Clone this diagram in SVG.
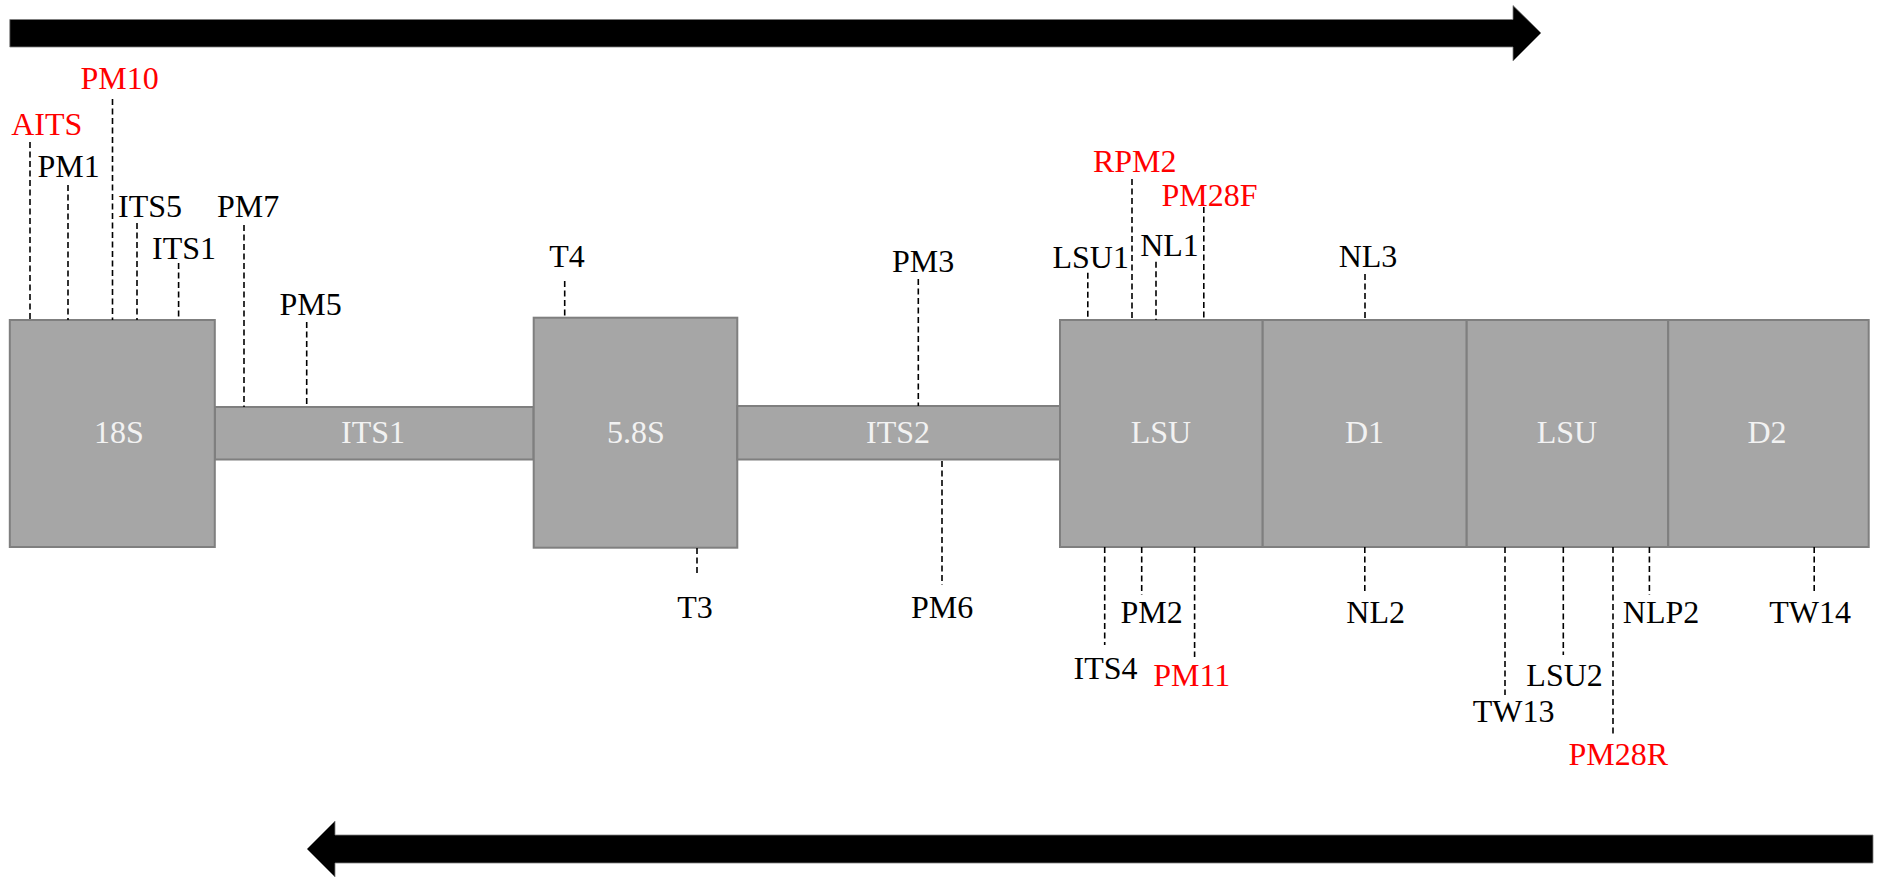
<svg xmlns="http://www.w3.org/2000/svg" width="1879" height="878" viewBox="0 0 1879 878">
  <style>
    .seg { fill: #a6a6a6; stroke: #7f7f7f; stroke-width: 2; }
    .seglabel { font-family: "Liberation Serif", "DejaVu Serif", serif; font-size: 32px; fill: #f2f2f2; text-anchor: middle; }
    .primer { font-family: "Liberation Serif", "DejaVu Serif", serif; font-size: 32px; fill: #000000; text-anchor: middle; }
    .red { fill: #ff0000; }
    .tick { stroke: #000000; stroke-width: 1.6; stroke-dasharray: 6 3.5; fill: none; }
    .dir { fill: #000000; stroke: #7f7f7f; stroke-width: 0.8; }
  </style>

  <!-- reading direction arrows -->
  <g id="arrow-forward">
    <polygon class="dir" points="9.8,19.5 1513,19.5 1513,5.5 1541,33 1513,61 1513,47 9.8,47"/>
  </g>
  <g id="arrow-reverse">
    <polygon class="dir" points="1873,835 335,835 335,821 307,849 335,877 335,863 1873,863"/>
  </g>

  <!-- rDNA regions -->
  <g id="node-18S">
    <rect class="seg" x="9.8" y="320" width="205" height="227"/>
    <text class="seglabel" font-family="Liberation Serif, serif" x="119" y="443">18S</text>
  </g>
  <g id="node-ITS1">
    <rect class="seg" x="215" y="407" width="318.5" height="52.5"/>
    <text class="seglabel" font-family="Liberation Serif, serif" x="373" y="443">ITS1</text>
  </g>
  <g id="node-5-8S">
    <rect class="seg" x="533.7" y="317.7" width="203.6" height="230"/>
    <text class="seglabel" font-family="Liberation Serif, serif" x="636" y="443">5.8S</text>
  </g>
  <g id="node-ITS2">
    <rect class="seg" x="737.3" y="406" width="322.7" height="53.5"/>
    <text class="seglabel" font-family="Liberation Serif, serif" x="898" y="443">ITS2</text>
  </g>
  <g id="node-LSU-a">
    <rect class="seg" x="1060" y="320" width="202.7" height="227"/>
    <text class="seglabel" font-family="Liberation Serif, serif" x="1161" y="443">LSU</text>
  </g>
  <g id="node-D1">
    <rect class="seg" x="1262.7" y="320" width="204" height="227"/>
    <text class="seglabel" font-family="Liberation Serif, serif" x="1364.5" y="443">D1</text>
  </g>
  <g id="node-LSU-b">
    <rect class="seg" x="1466.7" y="320" width="201.5" height="227"/>
    <text class="seglabel" font-family="Liberation Serif, serif" x="1567" y="443">LSU</text>
  </g>
  <g id="node-D2">
    <rect class="seg" x="1668.2" y="320" width="200.5" height="227"/>
    <text class="seglabel" font-family="Liberation Serif, serif" x="1767" y="443">D2</text>
  </g>

  <!-- primer site connectors -->
  <g id="connectors">
    <line class="tick" x1="30" y1="142" x2="30" y2="320"/>
    <line class="tick" x1="68" y1="185" x2="68" y2="320"/>
    <line class="tick" x1="112.5" y1="99" x2="112.5" y2="320"/>
    <line class="tick" x1="137" y1="223" x2="137" y2="320"/>
    <line class="tick" x1="178.6" y1="263" x2="178.6" y2="320"/>
    <line class="tick" x1="244" y1="225" x2="244" y2="407"/>
    <line class="tick" x1="306.7" y1="322" x2="306.7" y2="407"/>
    <line class="tick" x1="564.7" y1="281" x2="564.7" y2="318"/>
    <line class="tick" x1="918.3" y1="279" x2="918.3" y2="406"/>
    <line class="tick" x1="942" y1="461" x2="942" y2="585"/>
    <line class="tick" x1="697" y1="548" x2="697" y2="574"/>
    <line class="tick" x1="1087.8" y1="272.7" x2="1087.8" y2="320"/>
    <line class="tick" x1="1132" y1="179" x2="1132" y2="320"/>
    <line class="tick" x1="1156" y1="261.7" x2="1156" y2="320"/>
    <line class="tick" x1="1203.8" y1="207" x2="1203.8" y2="320"/>
    <line class="tick" x1="1365" y1="274" x2="1365" y2="320"/>
    <line class="tick" x1="1104.7" y1="547" x2="1104.7" y2="645"/>
    <line class="tick" x1="1141.7" y1="547" x2="1141.7" y2="595"/>
    <line class="tick" x1="1194.6" y1="547" x2="1194.6" y2="657"/>
    <line class="tick" x1="1364.8" y1="547" x2="1364.8" y2="593"/>
    <line class="tick" x1="1505" y1="547" x2="1505" y2="695"/>
    <line class="tick" x1="1563.3" y1="547" x2="1563.3" y2="655"/>
    <line class="tick" x1="1613" y1="547" x2="1613" y2="737"/>
    <line class="tick" x1="1649.4" y1="547" x2="1649.4" y2="595"/>
    <line class="tick" x1="1814.2" y1="547" x2="1814.2" y2="593"/>
  </g>

  <!-- primer names -->
  <g id="primer-PM10"><text class="primer red" font-family="Liberation Serif, serif" x="119.5" y="89">PM10</text></g>
  <g id="primer-AITS"><text class="primer red" font-family="Liberation Serif, serif" x="46.7" y="135">AITS</text></g>
  <g id="primer-PM1"><text class="primer" font-family="Liberation Serif, serif" x="68.5" y="177">PM1</text></g>
  <g id="primer-ITS5"><text class="primer" font-family="Liberation Serif, serif" x="150" y="217">ITS5</text></g>
  <g id="primer-ITS1"><text class="primer" font-family="Liberation Serif, serif" x="184" y="259">ITS1</text></g>
  <g id="primer-PM7"><text class="primer" font-family="Liberation Serif, serif" x="248" y="217">PM7</text></g>
  <g id="primer-PM5"><text class="primer" font-family="Liberation Serif, serif" x="310.5" y="315">PM5</text></g>
  <g id="primer-T4"><text class="primer" font-family="Liberation Serif, serif" x="567" y="267">T4</text></g>
  <g id="primer-PM3"><text class="primer" font-family="Liberation Serif, serif" x="923" y="271.5">PM3</text></g>
  <g id="primer-T3"><text class="primer" font-family="Liberation Serif, serif" x="695" y="618">T3</text></g>
  <g id="primer-PM6"><text class="primer" font-family="Liberation Serif, serif" x="942" y="618">PM6</text></g>
  <g id="primer-LSU1"><text class="primer" font-family="Liberation Serif, serif" x="1090.7" y="268">LSU1</text></g>
  <g id="primer-RPM2"><text class="primer red" font-family="Liberation Serif, serif" x="1134.7" y="172">RPM2</text></g>
  <g id="primer-NL1"><text class="primer" font-family="Liberation Serif, serif" x="1169.5" y="256">NL1</text></g>
  <g id="primer-PM28F"><text class="primer red" font-family="Liberation Serif, serif" x="1209.5" y="206">PM28F</text></g>
  <g id="primer-NL3"><text class="primer" font-family="Liberation Serif, serif" x="1368" y="267">NL3</text></g>
  <g id="primer-PM2"><text class="primer" font-family="Liberation Serif, serif" x="1151.7" y="623">PM2</text></g>
  <g id="primer-ITS4"><text class="primer" font-family="Liberation Serif, serif" x="1105.5" y="679">ITS4</text></g>
  <g id="primer-PM11"><text class="primer red" font-family="Liberation Serif, serif" x="1191.7" y="686">PM11</text></g>
  <g id="primer-NL2"><text class="primer" font-family="Liberation Serif, serif" x="1375.7" y="623">NL2</text></g>
  <g id="primer-NLP2"><text class="primer" font-family="Liberation Serif, serif" x="1661" y="623">NLP2</text></g>
  <g id="primer-TW14"><text class="primer" font-family="Liberation Serif, serif" x="1810" y="623">TW14</text></g>
  <g id="primer-LSU2"><text class="primer" font-family="Liberation Serif, serif" x="1564.6" y="686">LSU2</text></g>
  <g id="primer-TW13"><text class="primer" font-family="Liberation Serif, serif" x="1513.7" y="721.7">TW13</text></g>
  <g id="primer-PM28R"><text class="primer red" font-family="Liberation Serif, serif" x="1618.3" y="765">PM28R</text></g>
</svg>
